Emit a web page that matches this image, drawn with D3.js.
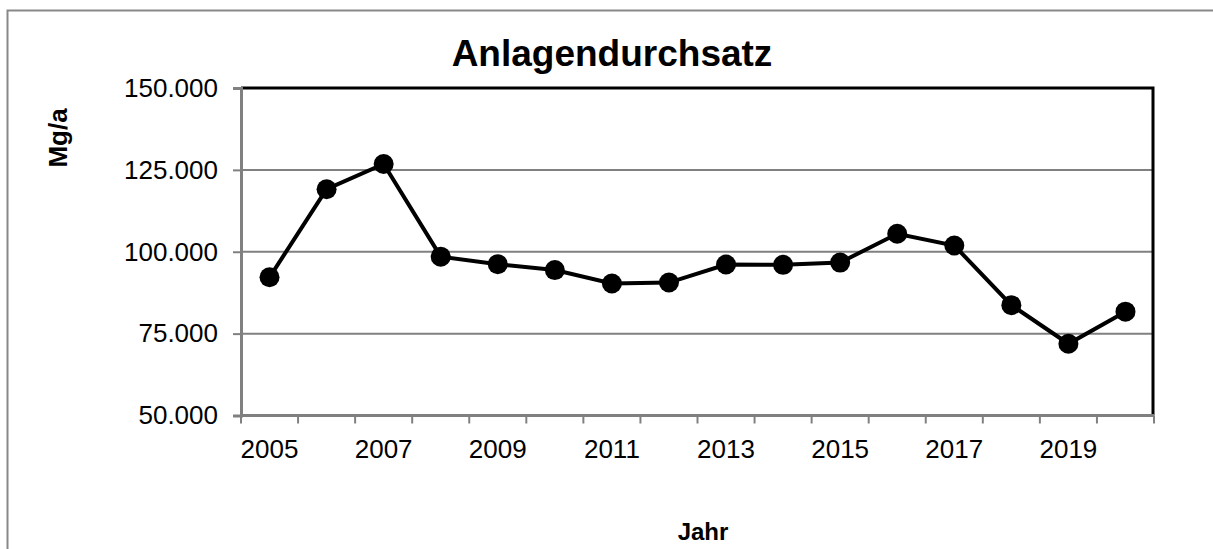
<!DOCTYPE html>
<html>
<head>
<meta charset="utf-8">
<script src="https://cdn.jsdelivr.net/npm/d3@7"></script>
<style>
  html, body { margin: 0; background: #fff; overflow: hidden; }
  svg { display: block; }
  text { font-family: "Liberation Sans", Arial, sans-serif; fill: #000; }
</style>
</head>
<body>
<div id="chart"></div>
<script>
// --- Data ---
const years = [2005, 2006, 2007, 2008, 2009, 2010, 2011, 2012, 2013, 2014, 2015, 2016, 2017, 2018, 2019, 2020];
const durchsatz = [92200, 119100, 126800, 98500, 96200, 94400, 90300, 90600, 96100, 96000, 96700, 105500, 101900, 83700, 71900, 81700];
const yTicks = [50000, 75000, 100000, 125000, 150000];
const xLabelYears = [2005, 2007, 2009, 2011, 2013, 2015, 2017, 2019];

const series = years.map((y, i) => ({ year: y, value: durchsatz[i] }));

// --- Dimensions ---
const W = 1213, H = 549;
const plot = { left: 241, right: 1154, top: 88, bottom: 415.5 };

const svg = d3.select("#chart").append("svg")
  .attr("width", W)
  .attr("height", H);

// outer chart border (only top/left visible in frame)
svg.append("rect")
  .attr("x", 7.5).attr("y", 10.5)
  .attr("width", W + 20).attr("height", H + 20)
  .attr("fill", "none")
  .attr("stroke", "#888")
  .attr("stroke-width", 2);

// --- Scales ---
const x = d3.scaleBand()
  .domain(years)
  .range([plot.left, plot.right]);

const y = d3.scaleLinear()
  .domain([50000, 150000])
  .range([plot.bottom, plot.top]);

const de = d3.formatLocale({ decimal: ",", thousands: ".", grouping: [3], currency: ["", " €"] });
const fmt = de.format(",.0f");

// --- Gridlines ---
svg.append("g")
  .selectAll("line")
  .data(yTicks.slice(1, -1))
  .join("line")
  .attr("x1", plot.left).attr("x2", plot.right)
  .attr("y1", d => y(d)).attr("y2", d => y(d))
  .attr("stroke", "#808080")
  .attr("stroke-width", 2);

// plot border top/right (black)
svg.append("path")
  .attr("d", `M${plot.left},${plot.top}H${plot.right - 1}V${plot.bottom}`)
  .attr("fill", "none")
  .attr("stroke", "#000")
  .attr("stroke-width", 3);

// --- Y axis ---
const yAxis = svg.append("g")
  .attr("transform", `translate(${plot.left},0)`)
  .call(d3.axisLeft(y).tickValues(yTicks).tickFormat(fmt).tickSize(8).tickPadding(15));
yAxis.select(".domain").attr("stroke", "#808080").attr("stroke-width", 3);
yAxis.selectAll(".tick line").attr("stroke", "#808080").attr("stroke-width", 2);
yAxis.selectAll(".tick text")
  .attr("font-family", "Liberation Sans, Arial, sans-serif")
  .attr("font-size", 26)
  .attr("fill", "#000");

// --- X axis ---
const boundaries = years.map(d => x(d)).concat([plot.right]);
const xAxis = svg.append("g")
  .attr("transform", `translate(0,${plot.bottom})`);
xAxis.append("line")
  .attr("x1", plot.left).attr("x2", plot.right)
  .attr("stroke", "#808080").attr("stroke-width", 3);
xAxis.selectAll(".xtick")
  .data(boundaries)
  .join("line")
  .attr("class", "xtick")
  .attr("x1", d => d).attr("x2", d => d)
  .attr("y1", 0).attr("y2", 8)
  .attr("stroke", "#808080").attr("stroke-width", 2);
xAxis.selectAll(".xlabel")
  .data(xLabelYears)
  .join("text")
  .attr("class", "xlabel")
  .attr("x", d => x(d) + x.bandwidth() / 2)
  .attr("y", 42)
  .attr("text-anchor", "middle")
  .attr("font-size", 26)
  .text(d => d);

// --- Line + markers ---
const line = d3.line()
  .x(d => x(d.year) + x.bandwidth() / 2)
  .y(d => y(d.value));

svg.append("path")
  .datum(series)
  .attr("d", line)
  .attr("fill", "none")
  .attr("stroke", "#000")
  .attr("stroke-width", 4);

svg.selectAll(".dot")
  .data(series)
  .join("circle")
  .attr("class", "dot")
  .attr("cx", d => x(d.year) + x.bandwidth() / 2)
  .attr("cy", d => y(d.value))
  .attr("r", 10)
  .attr("fill", "#000");

// --- Titles ---
svg.append("text")
  .attr("x", 612).attr("y", 66)
  .attr("text-anchor", "middle")
  .attr("font-size", 37)
  .attr("font-weight", "bold")
  .text("Anlagendurchsatz");

svg.append("text")
  .attr("transform", `translate(67,138) rotate(-90)`)
  .attr("text-anchor", "middle")
  .attr("font-size", 26)
  .attr("font-weight", "bold")
  .text("Mg/a");

svg.append("text")
  .attr("x", 703).attr("y", 540)
  .attr("text-anchor", "middle")
  .attr("font-size", 24)
  .attr("font-weight", "bold")
  .text("Jahr");
</script>
</body>
</html>
